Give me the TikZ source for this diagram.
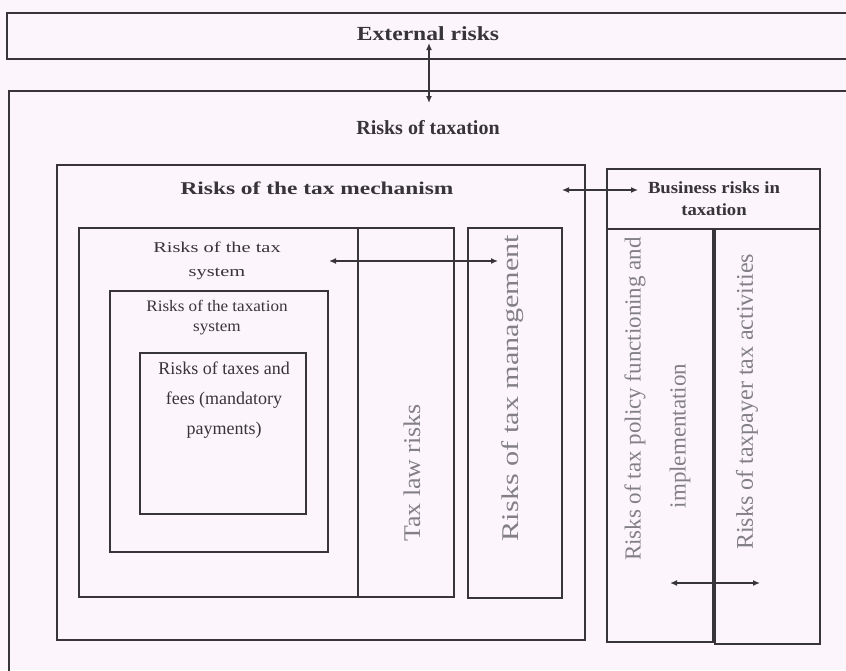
\documentclass[tikz,border=0pt]{standalone}
\usepackage{fontspec}
\setmainfont{Liberation Serif}
\usetikzlibrary{arrows.meta}
\definecolor{paper}{RGB}{252,246,252}
\definecolor{ink}{RGB}{55,52,58}
\definecolor{faded}{RGB}{130,127,134}
\newcommand\widen[2]{\scalebox{#1}[1]{#2}}
\newcommand\fsz[2]{\fontsize{#1}{#2}\selectfont}
\begin{document}
\begin{tikzpicture}[x=1pt,y=-1pt,
  frame/.style={draw=ink,line width=1.8pt},
  inner frame/.style={draw=ink,line width=1.5pt},
  link/.style={draw=ink,line width=1.8pt,{Latex[length=7pt,width=6pt]}-{Latex[length=7pt,width=6pt]}},
  label/.style={inner sep=0pt,text=ink,align=center},
  vlabel/.style={inner sep=0pt,text=faded,rotate=90}]
\useasboundingbox (0,0) rectangle (846,670);
\fill[paper] (0,0) rectangle (846,670);
\clip (0,0) rectangle (846,670);

% outer frames (run past the page edge on the right and bottom)
\draw[frame] (7,13) rectangle (860,59);
\draw[frame] (9,91) rectangle (860,690);

% tax mechanism
\draw[frame] (57,165) rectangle (585,640);
\draw[inner frame] (79,228) rectangle (358,597);
\draw[inner frame] (358,228) rectangle (454,597);
\draw[inner frame] (468,228) rectangle (562,598);
\draw[inner frame] (110,291) rectangle (328,552);
\draw[inner frame] (140,353) rectangle (306,514);

% business risks
\draw[frame] (607,169) rectangle (820,229);
\draw[inner frame] (607,229) rectangle (713,642);
\draw[inner frame] (715,229) rectangle (820,644);

% headings
\node[label,font=\fsz{20}{24}\bfseries] (ext) at (428,34) {\widen{1.18}{External risks}};
\node[label,font=\fsz{20}{24}\bfseries] (tax) at (428,128) {Risks of taxation};
\node[label,font=\fsz{18}{22}\bfseries] (mech) at (317,188) {\widen{1.3}{Risks of the tax mechanism}};
\node[label,font=\fsz{17}{22}\bfseries] (biz) at (714,199) {\widen{1.1}{Business risks in}\\\widen{1.1}{taxation}};

\node[label,font=\fsz{15}{24}] (sys) at (217,261) {\widen{1.36}{Risks of the tax}\\\widen{1.36}{system}};
\node[label,font=\fsz{16}{20}] (txs) at (217,318) {\widen{1.07}{Risks of the taxation}\\\widen{1.07}{system}};
\node[label,font=\fsz{18}{30}] (fees) at (224,400) {Risks of taxes and\\fees (mandatory\\payments)};

% rotated column titles
\node[vlabel,font=\fsz{24}{28}] (law) at (412,473) {\widen{1.08}{Tax law risks}};
\node[vlabel,font=\fsz{24}{28}] (mgmt) at (513,388) {\widen{1.26}{Risks of tax management}};
\node[vlabel,font=\fsz{23}{28}] (polA) at (635,399) {Risks of tax policy functioning and};
\node[vlabel,font=\fsz{23}{28}] (polB) at (680,436) {implementation};
\node[vlabel,font=\fsz{24}{28}] (payer) at (747,402) {Risks of taxpayer tax activities};

% connectors
\coordinate (a1) at (429,43);
\coordinate (a2) at (429,103);
\coordinate (b1) at (329,261);
\coordinate (b2) at (498,261);
\coordinate (c1) at (562,190);
\coordinate (c2) at (638,190);
\coordinate (d1) at (670,583);
\coordinate (d2) at (760,583);
\draw[link] (a1) -- (a2);
\draw[link] (b1) -- (b2);
\draw[link] (c1) -- (c2);
\draw[link] (d1) -- (d2);
\end{tikzpicture}
\end{document}
